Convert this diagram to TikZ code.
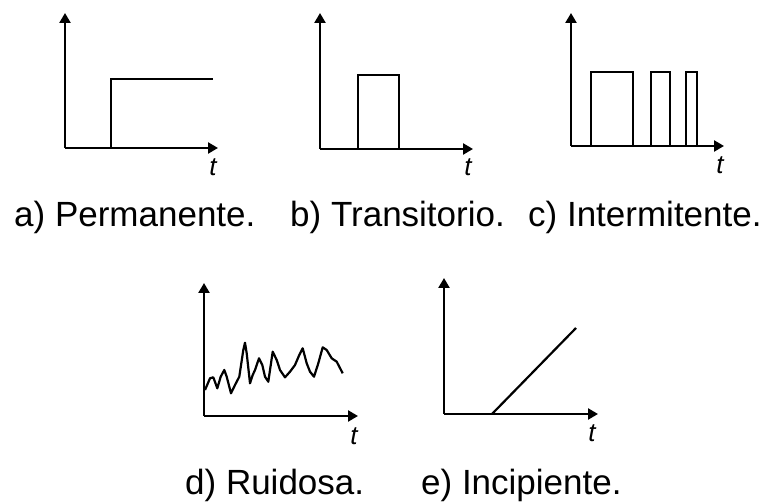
\documentclass[tikz,border=0pt]{standalone}
\usepackage{fontspec}
\setmainfont{Liberation Sans}
\usetikzlibrary{arrows.meta}
\begin{document}
\begin{tikzpicture}[x=1pt,y=-1pt,
  axis/.style={line width=2.6pt,-{Triangle[length=10pt,width=11pt]}},
  sig/.style={line width=2.6pt,line join=miter},
  thin sig/.style={line width=2.2pt,line join=round},
  tlab/.style={font=\fontsize{26}{26}\selectfont\itshape,inner sep=0pt},
  caption/.style={font=\fontsize{35}{35}\selectfont,anchor=base west,inner sep=0pt}]
\useasboundingbox (0,0) rectangle (766,502);
% ---- a) ----
\coordinate (a0) at (65,148);
\coordinate (ay) at (65,13);
\coordinate (ax) at (218,148);
\draw[axis] (a0) -- (ay);
\draw[axis] (a0) -- (ax);
\draw[sig] (111,148) -- (111,79) -- (213,79);
\node[tlab] (at) at (213,167) {t};
\node[caption] (acap) at (14,227) {a) Permanente.};
% ---- b) ----
\coordinate (b0) at (320,149);
\coordinate (by) at (320,13);
\coordinate (bx) at (473,149);
\draw[axis] (b0) -- (by);
\draw[axis] (b0) -- (bx);
\draw[sig] (358,149) -- (358,75) -- (399,75) -- (399,149);
\node[tlab] (bt) at (468,167) {t};
\node[caption] (bcap) at (290,227) {b) Transitorio.};
% ---- c) ----
\coordinate (c0) at (571,146);
\coordinate (cy) at (571,13);
\coordinate (cx) at (724,146);
\draw[axis] (c0) -- (cy);
\draw[axis] (c0) -- (cx);
\draw[sig] (591,146) -- (591,72) -- (633,72) -- (633,146);
\draw[sig] (651,146) -- (651,72) -- (670,72) -- (670,146);
\draw[sig] (686,146) -- (686,72) -- (697,72) -- (697,146);
\node[tlab] (ct) at (720,165) {t};
\node[caption] (ccap) at (528,227) {c) Intermitente.};
% ---- d) ----
\coordinate (d0) at (204,416);
\coordinate (dy) at (204,283);
\coordinate (dx) at (358,416);
\draw[axis] (d0) -- (dy);
\draw[axis] (d0) -- (dx);
\draw[thin sig] (205,390) -- (210,378.3) -- (213.3,377.3) -- (217.3,388.3) -- (220.7,376.7)
  -- (224.3,370) -- (226.7,376.7) -- (231,393.3) -- (235,385) -- (239.3,376.7)
  -- (243.3,350) -- (245,342.7) -- (246.7,353.3) -- (250,383.3) -- (252.7,375)
  -- (255,370) -- (259,358.3) -- (262.3,365) -- (265,376.7) -- (268.3,381.7)
  -- (272.7,351.7) -- (276.7,360) -- (280,370) -- (285,377.3) -- (290,371.7)
  -- (295,365) -- (299.3,355) -- (302.7,348.3) -- (306.7,363.3) -- (310,371.7)
  -- (314,376.7) -- (318.3,363.3) -- (322.7,347.3) -- (326.7,350) -- (331.7,358.3)
  -- (336.7,361.7) -- (342.7,373.3);
\node[tlab] (dt) at (354,436) {t};
\node[caption] (dcap) at (185,494) {d) Ruidosa.};
% ---- e) ----
\coordinate (e0) at (444,414);
\coordinate (ey) at (444,278);
\coordinate (ex) at (598,414);
\draw[axis] (e0) -- (ey);
\draw[axis] (e0) -- (ex);
\draw[thin sig] (492,414) -- (576,328);
\node[tlab] (et) at (592,433) {t};
\node[caption] (ecap) at (421,494) {e) Incipiente.};
\end{tikzpicture}
\end{document}
